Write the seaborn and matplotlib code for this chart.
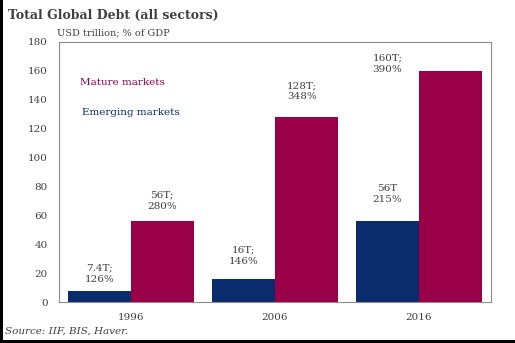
import matplotlib
matplotlib.use("Agg")
import matplotlib.pyplot as plt
from matplotlib.lines import Line2D
import seaborn as sns
import pandas as pd

years = ["1996", "2006", "2016"]
markets = ["Emerging markets", "Mature markets"]
emerging = [7.4, 16, 56]
mature = [56, 128, 160]
labels_emerging = ["7.4T;\n126%", "16T;\n146%", "56T\n215%"]
labels_mature = ["56T;\n280%", "128T;\n348%", "160T;\n390%"]
yticks = [0, 20, 40, 60, 80, 100, 120, 140, 160, 180]

df = pd.DataFrame({
    "year": years * 2,
    "market": [markets[0]] * 3 + [markets[1]] * 3,
    "value": emerging + mature,
})

sns.set_theme(style="white")
plt.rcParams["font.family"] = ["DejaVu Serif"]

NAVY = "#0B2C6C"
MAROON = "#990047"
GRAY = "#404040"

fig = plt.figure(figsize=(5.15, 3.43), dpi=100)
ax = fig.add_axes([59 / 515, 41 / 343, 432 / 515, 260 / 343])

sns.barplot(data=df, x="year", y="value", hue="market", hue_order=markets,
            order=years, palette=[NAVY, MAROON], width=0.875, saturation=1,
            legend=False, ax=ax, edgecolor="none")

ax.set_xlim(-0.5, 2.5)
ax.set_ylim(0, 180)
ax.set_yticks(yticks)
ax.set_yticklabels([str(t) for t in yticks])
ax.set_xlabel("")
ax.set_ylabel("")
ax.tick_params(axis="both", length=0, labelsize=7.5, colors=GRAY, pad=8)
ax.tick_params(axis="y", pad=8)
for s in ax.spines.values():
    s.set_visible(True)
    s.set_color("#8c8c8c")
    s.set_linewidth(0.8)

off = 0.219
lab_fs = 7.5
ls = 1.3
# emerging labels (placed above emerging bars)
ax.text(0 - off, emerging[0] + 12, labels_emerging[0], ha="center", va="center",
        fontsize=lab_fs, color=GRAY, linespacing=ls)
ax.text(1 - off, emerging[1] + 16, labels_emerging[1], ha="center", va="center",
        fontsize=lab_fs, color=GRAY, linespacing=ls)
ax.text(2 - off, emerging[2] + 19, labels_emerging[2], ha="center", va="center",
        fontsize=lab_fs, color=GRAY, linespacing=ls)
# mature labels
ax.text(0 + off - 0.005, mature[0] + 14, labels_mature[0], ha="center", va="center",
        fontsize=lab_fs, color=GRAY, linespacing=ls)
ax.text(1 + off - 0.03, mature[1] + 18, labels_mature[1], ha="center", va="center",
        fontsize=lab_fs, color=GRAY, linespacing=ls)
ax.text(2 - off, mature[2] + 5, labels_mature[2], ha="center", va="center",
        fontsize=lab_fs, color=GRAY, linespacing=ls)

ax.text(-0.355, 152, "Mature markets", ha="left", va="center", fontsize=7.5,
        color=MAROON)
ax.text(-0.34, 131, "Emerging markets", ha="left", va="center", fontsize=7.5,
        color=NAVY)

fig.text(8 / 515, 1 - 15 / 343, "Total Global Debt (all sectors)", ha="left",
         va="center", fontsize=9, fontweight="bold", color=GRAY)
fig.text(57 / 515, 1 - 33 / 343, "USD trillion; % of GDP", ha="left",
         va="center", fontsize=7, color=GRAY)
fig.text(5 / 515, 1 - 331 / 343, "Source: IIF, BIS, Haver.", ha="left",
         va="center", fontsize=7.5, style="italic", color=GRAY)

fig.add_artist(Line2D([0.002, 0.002], [0, 1], transform=fig.transFigure,
                      color="black", linewidth=2.2))
fig.add_artist(Line2D([0, 1], [0.006, 0.006], transform=fig.transFigure,
                      color="black", linewidth=2.2))

fig.savefig("out.png", dpi=100)
